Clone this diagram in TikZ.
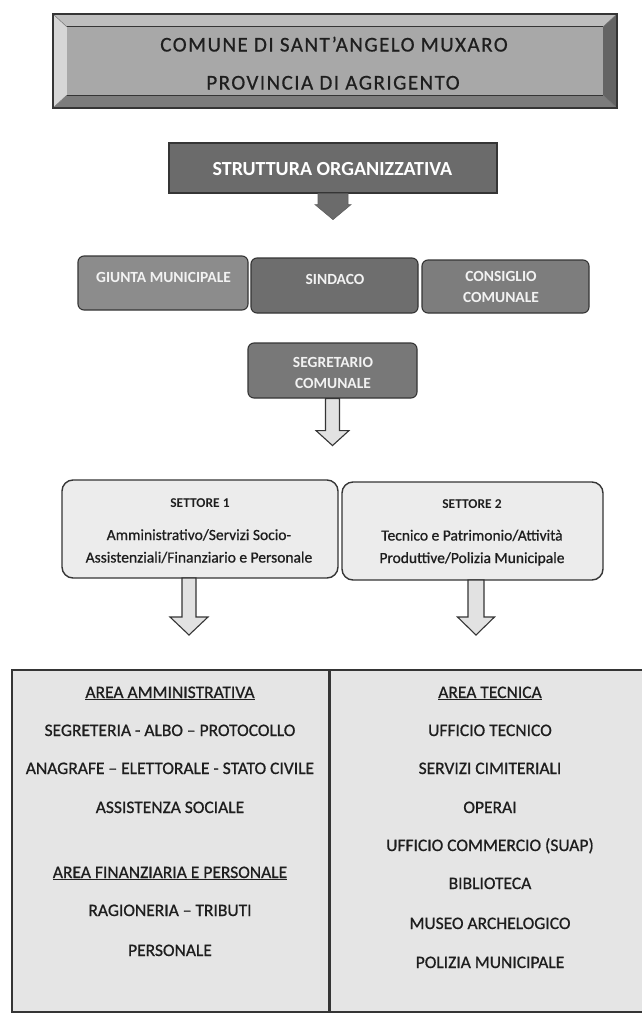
\documentclass[tikz,border=0pt]{standalone}
\usepackage{fontspec}
\setmainfont{Carlito}
\newfontfamily\topfont[LetterSpace=7,FakeBold=0.6]{Carlito}
\newfontfamily\inkfont[FakeBold=0.8]{Carlito}
\usetikzlibrary{calc}
\definecolor{topface}{HTML}{A8A8A8}
\definecolor{bevL}{HTML}{D6D6D6}
\definecolor{bevT}{HTML}{BEBEBE}
\definecolor{bevR}{HTML}{646464}
\definecolor{bevB}{HTML}{7C7C7C}
\definecolor{edge}{HTML}{353535}
\definecolor{strutc}{HTML}{6B6B6B}
\definecolor{giuntac}{HTML}{8C8C8C}
\definecolor{sindc}{HTML}{6E6E6E}
\definecolor{consc}{HTML}{7D7D7D}
\definecolor{segc}{HTML}{787878}
\definecolor{lightbox}{HTML}{ECECEC}
\definecolor{areac}{HTML}{E5E5E5}
\definecolor{arrowc}{HTML}{E2E2E2}
\definecolor{txt}{HTML}{1E1E1E}
\definecolor{lighttxt}{HTML}{F2F2F2}
\tikzset{
  plainbox/.style={rectangle, inner sep=0pt, draw=edge, line width=1pt},
  rowbox/.style={plainbox, rounded corners=6pt, line width=1.1pt},
  setbox/.style={plainbox, fill=lightbox, rounded corners=11pt, line width=1.4pt},
  areabox/.style={plainbox, fill=areac, line width=1.3pt},
  toptext/.style={anchor=base, inner sep=0pt, font=\topfont\fontsize{21}{24}\selectfont, text=txt},
  whitebold/.style={anchor=base, inner sep=0pt, font=\bfseries\fontsize{15.5}{18}\selectfont, text=lighttxt},
  settitle/.style={anchor=base, inner sep=0pt, font=\bfseries\fontsize{13.5}{16}\selectfont, text=txt},
  settext/.style={anchor=base, inner sep=0pt, font=\inkfont\fontsize{15.5}{18}\selectfont, text=txt},
  arealine/.style={anchor=base, inner sep=0pt, font=\inkfont\fontsize{17.5}{20}\selectfont, text=txt},
  hollow/.style={fill=arrowc, draw=edge, line width=1.1pt, line join=miter},
  solidarrow/.style={fill=strutc, draw=edge!80, line width=0.6pt}
}
\begin{document}
\begin{tikzpicture}[x=1pt,y=-1pt]
\useasboundingbox (0,0) rectangle (642,1015);
\clip (0,0) rectangle (642,1015);
\fill[white] (0,0) rectangle (642,1015);

% ---------- top bevelled box ----------
\coordinate (o1) at (53,14);
\coordinate (o2) at (617,14);
\coordinate (o3) at (617,108);
\coordinate (o4) at (53,108);
\node[rectangle, inner sep=0pt, fill=topface, minimum width=536pt, minimum height=68pt] (face) at (335,61) {};
\fill[bevT] (o1) -- (o2) -- (face.north east) -- (face.north west) -- cycle;
\fill[bevB] (o4) -- (o3) -- (face.south east) -- (face.south west) -- cycle;
\fill[bevL] (o1) -- (o4) -- (face.south west) -- (face.north west) -- cycle;
\fill[bevR] (o2) -- (o3) -- (face.south east) -- (face.north east) -- cycle;
\draw[edge, line width=0.9pt] (face.north west) -- (face.north east);
\draw[edge, line width=0.9pt] (face.south west) -- (face.south east);
\draw[edge!70, line width=0.5pt] (o1) -- (face.north west) (o4) -- (face.south west) (o2) -- (face.north east) (o3) -- (face.south east);
\draw[edge, line width=1.2pt] (o1) -- (o2) -- (o3) -- (o4) -- cycle;
\node[toptext] (comune) at (334,51.5) {COMUNE DI SANT’ANGELO MUXARO};
\node[toptext] (prov) at (333,89.5) {PROVINCIA DI AGRIGENTO};

% ---------- struttura organizzativa ----------
\node[plainbox, fill=strutc, minimum width=328pt, minimum height=50pt, line width=1.2pt] (strut) at (333,168) {};
\node[anchor=base, inner sep=0pt, font=\bfseries\fontsize{20}{23}\selectfont, text=white] (strutlbl) at (332.5,175) {STRUTTURA ORGANIZZATIVA};
\coordinate (sa) at (strut.south);
\filldraw[solidarrow] ([xshift=-15pt]sa) -- ++(0,11) -- ++(-3,0) -- ++(18,15) -- ++(18,-15) -- ++(-3,0) -- ++(0,-11) -- cycle;

% ---------- organi ----------
\node[rowbox, fill=giuntac, minimum width=170pt, minimum height=54pt] (giunta) at (163,283) {};
\node[rowbox, fill=sindc, minimum width=167pt, minimum height=55pt] (sindaco) at (334.5,285.5) {};
\node[rowbox, fill=consc, minimum width=167pt, minimum height=53pt] (consiglio) at (505.5,286.5) {};
\node[whitebold] (giuntalbl) at (163.5,282) {GIUNTA MUNICIPALE};
\node[whitebold] (sindacolbl) at (335,284) {SINDACO};
\node[whitebold] (conslbl1) at (501,281) {CONSIGLIO};
\node[whitebold] (conslbl2) at (501,302) {COMUNALE};

% ---------- segretario ----------
\node[rowbox, fill=segc, minimum width=169pt, minimum height=55pt] (seg) at (332.5,370.5) {};
\node[whitebold] (seglbl1) at (333,367) {SEGRETARIO};
\node[whitebold] (seglbl2) at (333,388) {COMUNALE};
\coordinate (segout) at (seg.south);
\filldraw[hollow] ([xshift=-7pt]segout) -- ++(0,32) -- ++(-9.5,0) -- ++(16.5,15) -- ++(16.5,-15) -- ++(-9.5,0) -- ++(0,-32) -- cycle;

% ---------- settori ----------
\node[setbox, minimum width=276pt, minimum height=98pt] (set1) at (200,529) {};
\node[setbox, minimum width=261pt, minimum height=98pt] (set2) at (472.5,531) {};
\node[settitle] (set1t) at (200,507) {SETTORE 1};
\node[settext] (set1a) at (199,540) {Amministrativo/Servizi Socio-};
\node[settext] (set1b) at (199,562.5) {Assistenziali/Finanziario e Personale};
\node[settitle] (set2t) at (472,508) {SETTORE 2};
\node[settext] (set2a) at (472,540.5) {Tecnico e Patrimonio/Attività};
\node[settext] (set2b) at (472,563) {Produttive/Polizia Municipale};
\coordinate (s1out) at (189,578);
\coordinate (s2out) at (476,580);
\filldraw[hollow] ([xshift=-7pt]s1out) -- ++(0,39) -- ++(-12,0) -- ++(19,18) -- ++(19,-18) -- ++(-12,0) -- ++(0,-39) -- cycle;
\filldraw[hollow] ([xshift=-8pt]s2out) -- ++(0,37) -- ++(-10.5,0) -- ++(18.5,18) -- ++(18.5,-18) -- ++(-10.5,0) -- ++(0,-37) -- cycle;

% ---------- aree ----------
\node[areabox, minimum width=317pt, minimum height=342pt] (area1) at (170.5,841) {};
\node[areabox, minimum width=331pt, minimum height=342pt] (area2) at (494.5,841) {};
\draw[edge, line width=3pt] (area1.north east) -- (area1.south east);

\node[arealine] (a1h) at (170,698) {\underline{AREA AMMINISTRATIVA}};
\node[arealine] (a1l1) at (170,736) {SEGRETERIA - ALBO – PROTOCOLLO};
\node[arealine] (a1l2) at (170,774) {ANAGRAFE – ELETTORALE - STATO CIVILE};
\node[arealine] (a1l3) at (170,813) {ASSISTENZA SOCIALE};
\node[arealine] (a1h2) at (170,878) {\underline{AREA FINANZIARIA E PERSONALE}};
\node[arealine] (a1l4) at (170,916) {RAGIONERIA – TRIBUTI};
\node[arealine] (a1l5) at (170,956) {PERSONALE};

\node[arealine] (a2h) at (490,698) {\underline{AREA TECNICA}};
\node[arealine] (a2l1) at (490,736) {UFFICIO TECNICO};
\node[arealine] (a2l2) at (490,774) {SERVIZI CIMITERIALI};
\node[arealine] (a2l3) at (490,813) {OPERAI};
\node[arealine] (a2l4) at (490,851) {UFFICIO COMMERCIO (SUAP)};
\node[arealine] (a2l5) at (490,889) {BIBLIOTECA};
\node[arealine] (a2l6) at (490,929) {MUSEO ARCHELOGICO};
\node[arealine] (a2l7) at (490,968) {POLIZIA MUNICIPALE};
\end{tikzpicture}
\end{document}
